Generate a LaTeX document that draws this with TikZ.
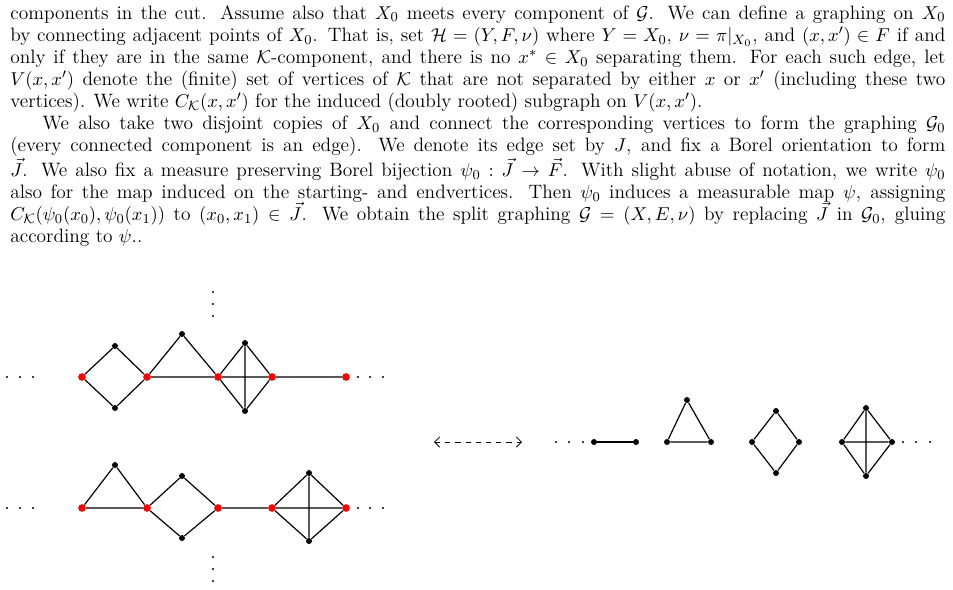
\documentclass[tikz,border=0pt]{standalone}
\usepackage{amsmath,amssymb}
\usetikzlibrary{arrows.meta}
\begin{document}
\begin{tikzpicture}[x=0.5882pt,y=-0.5882pt,
  red/.style={circle,fill=red,inner sep=0,minimum size=4.5pt},
  blk/.style={circle,fill=black,inner sep=0,minimum size=3.5pt},
  dt/.style={circle,fill=black,inner sep=0,minimum size=1.4pt},
  edge/.style={line width=0.7pt}]
\useasboundingbox (0,0) rectangle (953,590);
\node[anchor=north west,inner sep=0] (txt) at (10,5) {\begin{minipage}[t]{550pt}\fontsize{11.4}{13}\selectfont\parindent=19pt
\noindent components in the cut. Assume also that $X_0$ meets every component of $\mathcal{G}$. We can define a graphing on $X_0$ \linebreak by connecting adjacent points of $X_0$. That is, set $\mathcal{H}=(Y,F,\nu)$ where $Y=X_0$, $\nu=\pi|_{X_0}$, and $(x,x')\in F$ if and \linebreak only if they are in the same $\mathcal{K}$-component, and there is no $x^*\in X_0$ separating them. For each such edge, let \linebreak $V(x,x')$ denote the (finite) set of vertices of $\mathcal{K}$ that are not separated by either $x$ or $x'$ (including these two \linebreak vertices). We write $C_{\mathcal{K}}(x,x')$ for the induced (doubly rooted) subgraph on $V(x,x')$.\par
We also take two disjoint copies of $X_0$ and connect the corresponding vertices to form the graphing $\mathcal{G}_0$ \linebreak (every connected component is an edge). We denote its edge set by $J$, and fix a Borel orientation to form \linebreak $\vec{J}$. We also fix a measure preserving Borel bijection $\psi_0:\vec{J}\to\vec{F}$. With slight abuse of notation, we write $\psi_0$ \linebreak also for the map induced on the starting- and endvertices. Then $\psi_0$ induces a measurable map $\psi$, assigning \linebreak $C_{\mathcal{K}}(\psi_0(x_0),\psi_0(x_1))$ to $(x_0,x_1)\in\vec{J}$. We obtain the split graphing $\mathcal{G}=(X,E,\nu)$ by replacing $\vec{J}$ in $\mathcal{G}_0$, gluing \linebreak according to $\psi$..\par\end{minipage}};
% top row
\foreach \i/\x in {1/82,2/147,3/218,4/272,5/346} \node[red] (t\i) at (\x,377) {};
\node[blk] (ta) at (115,346) {}; \node[blk] (tb) at (115,408) {};
\node[blk] (tc) at (182,334) {};
\node[blk] (td) at (245,343) {}; \node[blk] (te) at (245,411) {};
\draw[edge] (t1)--(ta)--(t2)--(tb)--(t1) (t2)--(tc)--(t3) (t2)--(t3)--(t4)--(t5)
  (t3)--(td)--(t4)--(te)--(t3) (td)--(te);
% bottom row
\foreach \i/\x in {1/82,2/147,3/218,4/272,5/346} \node[red] (b\i) at (\x,508) {};
\node[blk] (ba) at (115,465) {};
\node[blk] (bb) at (182,476) {}; \node[blk] (bc) at (182,538) {};
\node[blk] (bd) at (309,473) {}; \node[blk] (be) at (309,541) {};
\draw[edge] (b1)--(ba)--(b2)--(b1) (b2)--(bb)--(b3)--(bc)--(b2) (b3)--(b4)--(b5)
  (b4)--(bd)--(b5)--(be)--(b4) (bd)--(be);
% dots
\foreach \x in {7,20,33} {\node[dt] at (\x,377) {}; \node[dt] at (\x,508) {};}
\foreach \x in {358,370,383} {\node[dt] at (\x,377) {}; \node[dt] at (\x,508) {};}
\foreach \y in {292,304,316,557,569,581} \node[dt] at (213,\y) {};
% arrow
\coordinate (al) at (434,442); \coordinate (ar) at (522,442);
\draw[dashed,line width=0.5pt,<->,>={Straight Barb[length=3pt]}] (al)--(ar);
% right components
\foreach \x in {556,569,583,903,916,930} \node[dt] at (\x,442) {};
\node[blk] (ea) at (594,442) {}; \node[blk] (eb) at (636,442) {};
\draw[edge] (ea)--(eb);
\node[blk] (ra) at (667,442) {}; \node[blk] (rb) at (711,442) {}; \node[blk] (rc) at (687,400) {};
\draw[edge] (ra)--(rb)--(rc)--(ra);
\node[blk] (da) at (752,442) {}; \node[blk] (db) at (799,442) {}; \node[blk] (dc) at (776,411) {}; \node[blk] (dd) at (776,473) {};
\draw[edge] (da)--(dc)--(db)--(dd)--(da);
\node[blk] (ka) at (842,442) {}; \node[blk] (kb) at (892,442) {}; \node[blk] (kc) at (866,408) {}; \node[blk] (kd) at (866,476) {};
\draw[edge] (ka)--(kc)--(kb)--(kd)--(ka) (ka)--(kb) (kc)--(kd);
\end{tikzpicture}
\end{document}
